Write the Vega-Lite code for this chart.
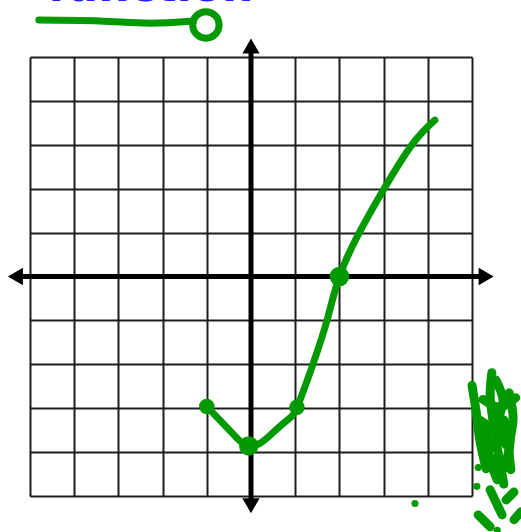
{
  "$schema": "https://vega.github.io/schema/vega-lite/v6.json",
  "width": 442,
  "height": 439,
  "autosize": {"type": "none"},
  "padding": {"left": 30, "top": 57, "right": 49, "bottom": 36},
  "background": "white",
  "config": {"view": {"stroke": null}},
  "datasets": {
    "curve": [
      {"x": -1.0, "y": -2.96},
      {"x": -0.63, "y": -3.35},
      {"x": -0.3, "y": -3.7},
      {"x": -0.07, "y": -3.86},
      {"x": 0.2, "y": -3.8},
      {"x": 0.45, "y": -3.6},
      {"x": 0.81, "y": -3.28},
      {"x": 1.04, "y": -2.98},
      {"x": 1.4, "y": -2.0},
      {"x": 1.72, "y": -1.0},
      {"x": 2.0, "y": 0.0},
      {"x": 2.45, "y": 1.0},
      {"x": 3.01, "y": 2.0},
      {"x": 3.64, "y": 3.0},
      {"x": 4.16, "y": 3.56}
    ],
    "dots": [
      {"x": -1.0, "y": -2.96, "r": 240},
      {"x": -0.05, "y": -3.86, "r": 380},
      {"x": 1.04, "y": -2.98, "r": 240},
      {"x": 2.0, "y": 0.0, "r": 380}
    ],
    "scribbles": [
      {"s": 1, "o": 1, "x": 5.0, "y": -2.48},
      {"s": 1, "o": 2, "x": 5.09, "y": -3.05},
      {"s": 1, "o": 3, "x": 5.18, "y": -3.74},
      {"s": 1, "o": 4, "x": 5.32, "y": -4.38},
      {"s": 2, "o": 1, "x": 5.45, "y": -2.19},
      {"s": 2, "o": 2, "x": 5.41, "y": -2.7},
      {"s": 2, "o": 3, "x": 5.5, "y": -3.45},
      {"s": 2, "o": 4, "x": 5.61, "y": -4.13},
      {"s": 2, "o": 5, "x": 5.72, "y": -4.73},
      {"s": 3, "o": 1, "x": 5.84, "y": -2.65},
      {"s": 3, "o": 2, "x": 5.93, "y": -3.22},
      {"s": 3, "o": 3, "x": 5.84, "y": -3.9},
      {"s": 3, "o": 4, "x": 5.88, "y": -4.4},
      {"s": 4, "o": 1, "x": 5.14, "y": -3.25},
      {"s": 4, "o": 2, "x": 5.59, "y": -3.66},
      {"s": 4, "o": 3, "x": 5.36, "y": -4.04},
      {"s": 4, "o": 4, "x": 5.72, "y": -4.38},
      {"s": 5, "o": 1, "x": 5.25, "y": -2.8},
      {"s": 5, "o": 2, "x": 5.63, "y": -2.98},
      {"s": 5, "o": 3, "x": 5.99, "y": -2.76},
      {"s": 6, "o": 1, "x": 5.41, "y": -4.86},
      {"s": 6, "o": 2, "x": 5.68, "y": -5.43},
      {"s": 7, "o": 1, "x": 5.14, "y": -5.43},
      {"s": 7, "o": 2, "x": 5.41, "y": -5.7},
      {"s": 8, "o": 1, "x": 5.77, "y": -5.09},
      {"s": 8, "o": 2, "x": 5.95, "y": -4.91},
      {"s": 9, "o": 1, "x": 5.95, "y": -5.54},
      {"s": 9, "o": 2, "x": 6.11, "y": -5.36},
      {"s": 10, "o": 1, "x": 5.54, "y": -2.36},
      {"s": 10, "o": 2, "x": 5.7, "y": -2.81},
      {"s": 10, "o": 3, "x": 5.59, "y": -3.38},
      {"s": 10, "o": 4, "x": 5.77, "y": -3.84},
      {"s": 11, "o": 1, "x": 5.32, "y": -3.49},
      {"s": 11, "o": 2, "x": 5.41, "y": -4.18},
      {"s": 11, "o": 3, "x": 5.57, "y": -4.63},
      {"s": 12, "o": 1, "x": 5.72, "y": -3.27},
      {"s": 12, "o": 2, "x": 5.86, "y": -3.72},
      {"s": 12, "o": 3, "x": 5.77, "y": -4.22}
    ],
    "specks": [
      {"x": 5.14, "y": -4.35},
      {"x": 5.11, "y": -4.78},
      {"x": 5.57, "y": -5.78},
      {"x": 3.71, "y": -5.17}
    ],
    "topline": [
      {"x": -4.8, "y": 5.84},
      {"x": -3.42, "y": 5.82},
      {"x": -2.29, "y": 5.77},
      {"x": -1.3, "y": 5.82}
    ],
    "arrows": [
      {"x": -5.33, "y": 0, "end": "left"},
      {"x": 5.32, "y": 0, "end": "right"},
      {"x": 0, "y": 5.25, "end": "up"},
      {"x": 0, "y": -5.22, "end": "down"}
    ]
  },
  "layer": [
    {
      "data": {"values": [{"x": 0, "y": 0}]},
      "mark": {"type": "point", "opacity": 0},
      "encoding": {
        "x": {
          "field": "x", "type": "quantitative",
          "scale": {"domain": [-5, 5], "nice": false, "zero": false},
          "axis": {"values": [-5, -4, -3, -2, -1, 0, 1, 2, 3, 4, 5], "grid": true, "gridColor": "#1e1e1e", "gridWidth": 2, "gridOpacity": 1, "labels": false, "ticks": false, "domain": false, "title": null}
        },
        "y": {
          "field": "y", "type": "quantitative",
          "scale": {"domain": [-5, 5], "nice": false, "zero": false},
          "axis": {"values": [-5, -4, -3, -2, -1, 0, 1, 2, 3, 4, 5], "grid": true, "gridColor": "#1e1e1e", "gridWidth": 2, "gridOpacity": 1, "labels": false, "ticks": false, "domain": false, "title": null}
        }
      }
    },
    {
      "data": {"values": [{"x1": -5.3, "x2": 5.3, "y": 0}]},
      "mark": {"type": "rule", "color": "black", "strokeWidth": 5},
      "encoding": {
        "x": {"field": "x1", "type": "quantitative"},
        "x2": {"field": "x2"},
        "y": {"field": "y", "type": "quantitative"}
      }
    },
    {
      "data": {"values": [{"x": 0, "y1": -5.2, "y2": 5.2}]},
      "mark": {"type": "rule", "color": "black", "strokeWidth": 5},
      "encoding": {
        "x": {"field": "x", "type": "quantitative"},
        "y": {"field": "y1", "type": "quantitative"},
        "y2": {"field": "y2"}
      }
    },
    {
      "data": {"name": "arrows"},
      "mark": {"type": "point", "filled": true, "color": "black", "opacity": 1, "size": 300},
      "encoding": {
        "x": {"field": "x", "type": "quantitative"},
        "y": {"field": "y", "type": "quantitative"},
        "shape": {
          "field": "end", "type": "nominal",
          "scale": {"domain": ["left", "right", "up", "down"], "range": ["triangle-left", "triangle-right", "triangle-up", "triangle-down"]},
          "legend": null
        }
      }
    },
    {
      "data": {"name": "curve"},
      "mark": {"type": "line", "color": "#009a00", "strokeWidth": 7, "interpolate": "natural", "strokeCap": "round", "strokeJoin": "round"},
      "encoding": {
        "x": {"field": "x", "type": "quantitative"},
        "y": {"field": "y", "type": "quantitative"}
      }
    },
    {
      "data": {"name": "dots"},
      "mark": {"type": "point", "filled": true, "color": "#009a00", "opacity": 1},
      "encoding": {
        "x": {"field": "x", "type": "quantitative"},
        "y": {"field": "y", "type": "quantitative"},
        "size": {"field": "r", "type": "quantitative", "scale": null, "legend": null}
      }
    },
    {
      "data": {"name": "scribbles"},
      "mark": {"type": "line", "color": "#009a00", "strokeWidth": 9, "strokeCap": "round", "strokeJoin": "round", "interpolate": "catmull-rom"},
      "encoding": {
        "x": {"field": "x", "type": "quantitative"},
        "y": {"field": "y", "type": "quantitative"},
        "detail": {"field": "s", "type": "nominal"},
        "order": {"field": "o", "type": "quantitative"}
      }
    },
    {
      "data": {"name": "specks"},
      "mark": {"type": "point", "filled": true, "color": "#009a00", "opacity": 1, "size": 50},
      "encoding": {
        "x": {"field": "x", "type": "quantitative"},
        "y": {"field": "y", "type": "quantitative"}
      }
    },
    {
      "data": {"name": "topline"},
      "mark": {"type": "line", "color": "#009a00", "strokeWidth": 7, "strokeCap": "round", "interpolate": "monotone"},
      "encoding": {
        "x": {"field": "x", "type": "quantitative"},
        "y": {"field": "y", "type": "quantitative"}
      }
    },
    {
      "data": {"values": [{"x": -1.02, "y": 5.73}]},
      "mark": {"type": "point", "filled": false, "color": "#009a00", "opacity": 1, "strokeWidth": 7, "size": 700},
      "encoding": {
        "x": {"field": "x", "type": "quantitative"},
        "y": {"field": "y", "type": "quantitative"}
      }
    },
    {
      "data": {"values": [{"x": 0.05, "y": 6.27, "label": "function"}]},
      "mark": {"type": "text", "align": "right", "baseline": "alphabetic", "font": "DejaVu Sans", "fontWeight": "bold", "fontSize": 44, "color": "#2020ff"},
      "encoding": {
        "x": {"field": "x", "type": "quantitative"},
        "y": {"field": "y", "type": "quantitative"},
        "text": {"field": "label"}
      }
    }
  ]
}
